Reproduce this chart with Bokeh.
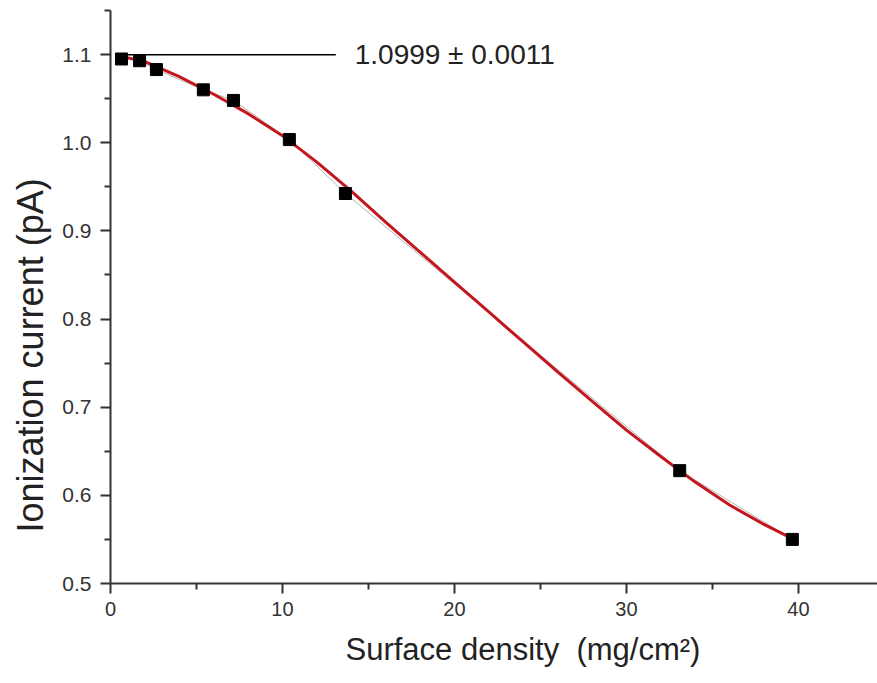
from bokeh.plotting import figure
from bokeh.models import Range1d, FixedTicker, PrintfTickFormatter, Label, Title
from bokeh.embed import file_html
from bokeh.resources import INLINE

# measured points
density = [0.64, 1.69, 2.67, 5.4, 7.15, 10.4, 13.66, 33.1, 39.65]
current = [1.095, 1.093, 1.083, 1.060, 1.048, 1.0036, 0.9424, 0.628, 0.550]

# fitted curve
fit_x = [0.64, 2, 4, 6, 8, 10, 12, 14, 16, 18, 20, 22, 24, 26, 28, 30, 32, 34, 36, 38, 39.65]
fit_y = [1.098, 1.092, 1.075, 1.055, 1.033, 1.008, 0.978, 0.945, 0.910, 0.876, 0.842,
         0.808, 0.774, 0.740, 0.707, 0.674, 0.644, 0.615, 0.589, 0.567, 0.551]

# plateau line
plateau_x = [0.35, 13.1]
plateau_y = [1.0999, 1.0999]
plateau_text = "1.0999 \u00b1 0.0011"

x_major = [0, 10, 20, 30, 40]
x_minor = [5, 15, 25, 35]
y_major = [0.5, 0.6, 0.7, 0.8, 0.9, 1.0, 1.1]
y_minor = [0.55, 0.65, 0.75, 0.85, 0.95, 1.05, 1.15]

FONT = "Liberation Sans"

p = figure(frame_width=767, frame_height=573,
           x_range=Range1d(0, 44.6), y_range=Range1d(0.5, 1.15),
           output_backend="svg", toolbar_location=None,
           min_border_left=110, min_border_top=10, min_border_right=0, min_border_bottom=100)
p.outline_line_color = None
p.xgrid.visible = False
p.ygrid.visible = False
p.background_fill_color = "white"
p.border_fill_color = "white"

for ax in (p.xaxis[0], p.yaxis[0]):
    ax.axis_line_color = "#333333"
    ax.axis_line_width = 2
    ax.major_tick_line_color = "#333333"
    ax.major_tick_line_width = 2
    ax.minor_tick_line_color = "#333333"
    ax.minor_tick_line_width = 2
    ax.major_tick_out = 10
    ax.major_tick_in = 0
    ax.minor_tick_out = 6
    ax.minor_tick_in = 0
    ax.major_label_text_font = FONT
    ax.major_label_text_color = "#333333"

p.xaxis.ticker = FixedTicker(ticks=x_major, minor_ticks=x_minor)
p.yaxis.ticker = FixedTicker(ticks=y_major, minor_ticks=y_minor)
p.yaxis.formatter = PrintfTickFormatter(format="%.1f")
p.xaxis.major_label_text_font_size = "20px"
p.yaxis.major_label_text_font_size = "21px"
p.xaxis.major_label_standoff = 8
p.yaxis.major_label_standoff = 9

p.line(density, current, line_color="#b5b5b5", line_width=1)
p.line(fit_x, fit_y, line_color="#c4161c", line_width=3)
p.scatter(density, current, marker="square", size=12, fill_color="black", line_color="black")

p.line(plateau_x, plateau_y, line_color="black", line_width=1.5)
p.add_layout(Label(x=14.2, y=1.0999, text=plateau_text, text_font=FONT,
                   text_font_size="28px", text_color="#222222",
                   text_baseline="middle", text_align="left"))

xt = Title(text="Surface density\u00a0 (mg/cm\u00b2)", align="left", offset=235,
           vertical_align="bottom",
           text_font=FONT, text_font_size="31px", text_font_style="normal",
           text_color="#222222", standoff=22)
p.add_layout(xt, "below")
yt = Title(text="Ionization current (pA)", align="left", offset=51,
           vertical_align="top",
           text_font=FONT, text_font_size="36px", text_font_style="normal",
           text_color="#222222", standoff=14)
p.add_layout(yt, "left")

open("out.html", "w").write(file_html(p, INLINE))
